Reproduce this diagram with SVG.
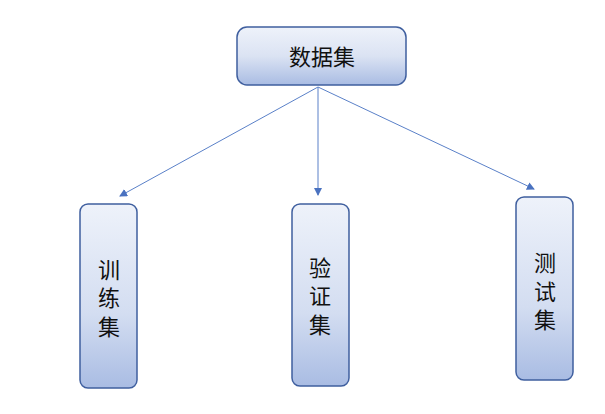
<svg xmlns="http://www.w3.org/2000/svg" width="605" height="414" viewBox="0 0 605 414">
<defs>
<linearGradient id="g" x1="0" y1="0" x2="0" y2="1"><stop offset="0" stop-color="#eef2fa"/><stop offset="0.5" stop-color="#dbe3f3"/><stop offset="1" stop-color="#a9bce3"/></linearGradient>
<linearGradient id="gv" x1="0" y1="0" x2="0" y2="1"><stop offset="0" stop-color="#eef2fa"/><stop offset="0.6" stop-color="#d3ddf1"/><stop offset="1" stop-color="#a9bce3"/></linearGradient>
<marker id="a" markerWidth="8" markerHeight="8" refX="7" refY="4" orient="auto" markerUnits="userSpaceOnUse"><path d="M0,0 L8,4 L0,8 z" fill="#4a72c0"/></marker>
</defs>
<style>
.n{stroke:#3f5f9f;stroke-width:1.5}
.t{font-family:"Noto Sans CJK SC",sans-serif;font-size:22px;fill:#111;text-anchor:middle}
.c{stroke:#5a80c8;stroke-width:1;fill:none;marker-end:url(#a)}
</style>
<rect width="605" height="414" fill="#fff"/>
<g id="connectors">
<line class="c" x1="318" y1="87" x2="120" y2="196"/>
<line class="c" x1="318" y1="87" x2="318" y2="195"/>
<line class="c" x1="318" y1="87" x2="534" y2="189"/>
</g>
<g id="n0"><rect class="n" x="237" y="27" width="169" height="58" rx="10" fill="url(#g)"/><text class="t" x="322" y="65">数据集</text></g>
<g id="n1"><rect class="n" x="80" y="204" width="57" height="184" rx="8" fill="url(#gv)"/><text class="t"><tspan x="109" y="278">训</tspan><tspan x="109" y="306">练</tspan><tspan x="109" y="335">集</tspan></text></g>
<g id="n2"><rect class="n" x="292" y="204" width="57" height="182" rx="8" fill="url(#gv)"/><text class="t"><tspan x="320" y="276">验</tspan><tspan x="320" y="304">证</tspan><tspan x="320" y="333">集</tspan></text></g>
<g id="n3"><rect class="n" x="516" y="197" width="57" height="183" rx="8" fill="url(#gv)"/><text class="t"><tspan x="545" y="271">测</tspan><tspan x="545" y="300">试</tspan><tspan x="545" y="328">集</tspan></text></g>
</svg>
